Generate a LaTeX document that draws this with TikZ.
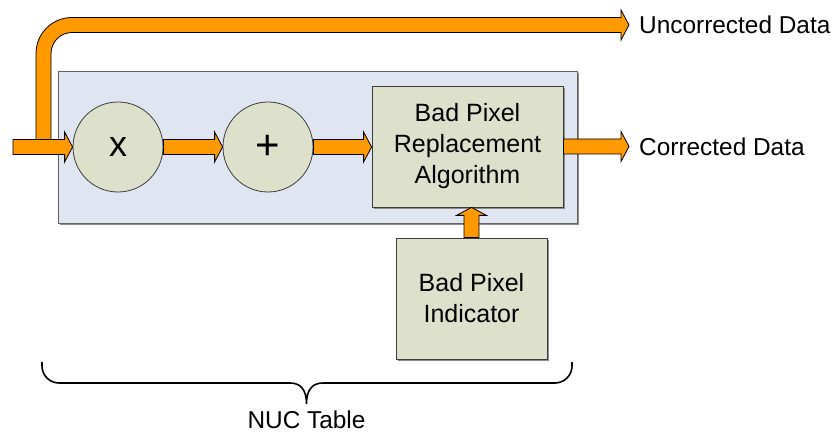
\documentclass[tikz,border=0pt]{standalone}
\usepackage{fontspec}
\setmainfont{Liberation Sans}
\usepackage{tikz}
\usetikzlibrary{calc,positioning,shadows}
\definecolor{flowor}{RGB}{255,153,0}
\definecolor{nucblue}{RGB}{223,230,241}
\definecolor{blockgreen}{RGB}{221,225,203}
\definecolor{edgegray}{RGB}{60,60,60}

% fat horizontal / vertical flow arrows
\newcommand{\fatarrowx}[2]{%
  \draw[fatarrow] let \p1=#1, \p2=#2 in
    (\x1,\y1-7.5) -- (\x2-8,\y1-7.5) -- (\x2-8,\y1-15) -- (\x2,\y1)
    -- (\x2-8,\y1+15) -- (\x2-8,\y1+7.5) -- (\x1,\y1+7.5) -- cycle;}
\newcommand{\fatarrowy}[2]{%
  \draw[fatarrow] let \p1=#1, \p2=#2 in
    (\x1-7.5,\y1) -- (\x1-7.5,\y2-8) -- (\x1-15,\y2-8) -- (\x1,\y2)
    -- (\x1+15,\y2-8) -- (\x1+7.5,\y2-8) -- (\x1+7.5,\y1) -- cycle;}

\begin{document}
\begin{tikzpicture}[x=1pt,y=1pt,
    fatarrow/.style={draw=black,fill=flowor,line width=0.8pt,line join=miter},
    shade/.style={drop shadow={shadow xshift=2pt,shadow yshift=-2pt,fill=black!45,opacity=1}},
    opnode/.style={circle,draw=edgegray,fill=blockgreen,line width=0.8pt,minimum size=90,inner sep=0,font=\fontsize{36}{36}\selectfont},
    blkbox/.style={rectangle,draw=edgegray,fill=blockgreen,line width=0.8pt,shade,align=center,inner sep=0,font=\fontsize{25}{31}\selectfont},
    lbl/.style={inner sep=0,font=\fontsize{24.4}{29}\selectfont}]
  \useasboundingbox (0,0) rectangle (835,434);

  \node[rectangle,draw=edgegray!80,fill=nucblue,line width=0.8pt,shade,
        minimum width=519,minimum height=152] (nuc) at (317.5,287) {};

  \node[opnode] (mult) at (118,287) {x};
  \node[opnode,font=\fontsize{42}{42}\selectfont] (add) at (268,287) {+};
  \node[blkbox,minimum width=191,minimum height=121] (bpr) at (467.5,287.5)
    {Bad Pixel\\Replacement\\Algorithm};
  \node[blkbox,minimum width=151,minimum height=121] (bpi) at (471.5,135.5)
    {Bad Pixel\\Indicator};

  \node[lbl,anchor=west] (unc) at (639,409) {Uncorrected Data};
  \node[lbl,anchor=west] (cor) at (639,287) {Corrected Data};

  \coordinate (in) at (13,287);
  \coordinate (split) at (43.5,294.5);

  % bypass path round the table
  \draw[fatarrow] let \p1=(split), \p2=($(unc.west)+(-10,0)$) in
    (\x1-7.5,\y1) -- (\x1-7.5,\y2-28.5) arc[start angle=180,end angle=90,radius=36]
    -- (\x2-8,\y2+7.5) -- (\x2-8,\y2+15) -- (\x2,\y2) -- (\x2-8,\y2-15)
    -- (\x2-8,\y2-7.5) -- (\x1+28.5,\y2-7.5) arc[start angle=90,end angle=180,radius=21]
    -- (\x1+7.5,\y1) -- cycle;

  \fatarrowx{(in)}{(mult.west)}
  \fatarrowx{(mult.east)}{(add.west)}
  \fatarrowx{(add.east)}{(bpr.west)}
  \fatarrowx{(bpr.east)}{($(cor.west)+(-10,0)$)}
  \fatarrowy{(bpi.north)}{(bpr.south)}

  % brace under the table
  \draw[line width=1.6pt] (42,72) -- (42,68) arc[start angle=180,end angle=270,radius=17]
    -- (290,51) .. controls (300,51) and (306.5,45) .. (306.5,30)
    .. controls (306.5,45) and (313,51) .. (323,51) -- (555,51)
    arc[start angle=270,end angle=360,radius=17] -- (572,72);
  \node[lbl] (nuclbl) at (306.5,14) {NUC Table};
\end{tikzpicture}
\end{document}
